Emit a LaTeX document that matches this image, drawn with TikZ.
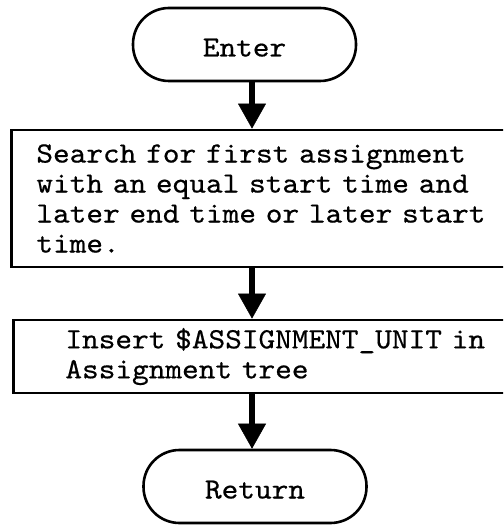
\documentclass[tikz,border=0pt]{standalone}
\usepackage{fontspec}
\newfontfamily\twfont{lmmono10-regular.otf}[FakeBold=0.5,FakeStretch=1.08]
\usetikzlibrary{arrows.meta}
\begin{document}
\begin{tikzpicture}[x=1pt,y=-1pt,
  txt/.style={font=\fontsize{29.4pt}{30pt}\selectfont\twfont},
  term/.style={txt,draw,line width=2.6pt,rectangle,rounded corners=36pt,
    minimum width=223pt,minimum height=73pt,inner sep=0pt,
    text height=24pt,text depth=0pt},
  procbox/.style={txt,draw,line width=2.8pt,rectangle,anchor=west,align=left},
  arr/.style={line width=6.5pt,-{Triangle[width=28pt,length=25pt,line width=0.5pt]}}]
\clip (0,0) rectangle (503,526);
\coordinate (ax) at (252,0);
\node[term] (enter) at (244.5,44.5) {Enter};
\node[procbox,minimum height=137pt,text width=480pt,inner xsep=25pt] (search) at (10,198.5)
  {Search for first assignment\\with an equal start time and\\later end time or later start\\time.};
\node[procbox,minimum height=73pt,text width=460pt,inner xsep=52pt] (insert) at (12,356.5)
  {Insert \$ASSIGNMENT\_UNIT in\\Assignment tree};
\node[term] (return) at (255,486.5) {Return};
\draw[arr] (enter.south -| ax) -- (search.north -| ax);
\draw[arr] (search.south -| ax) -- (insert.north -| ax);
\draw[arr] (insert.south -| ax) -- (return.north -| ax);
\end{tikzpicture}
\end{document}
